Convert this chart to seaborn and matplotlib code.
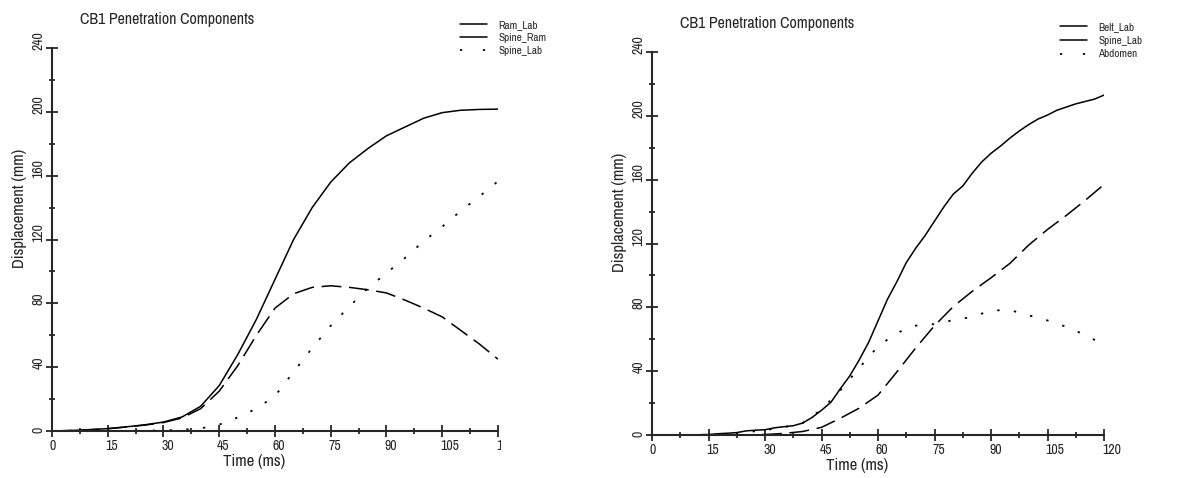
import numpy as np
import pandas as pd
import matplotlib
matplotlib.use("Agg")
import matplotlib.pyplot as plt
import seaborn as sns
from matplotlib.ticker import MultipleLocator
from matplotlib.transforms import Bbox, TransformedBbox, ScaledTranslation


# ---- left panel ----
time_ms = [0, 5, 10, 15, 20, 25, 30, 35, 40, 45, 50, 55, 60,
           65, 70, 75, 80, 85, 90, 95, 100, 105, 110, 115, 120]
ram_lab = [0, 0.3, 0.8, 1.5, 2.6, 3.9, 5.6, 8.8, 15.5, 28.5, 48, 70, 95,
           120, 140, 156, 168, 177, 185, 190.5, 196, 199.5, 201, 201.5, 201.7]
spine_ram = [0, 0.3, 0.8, 1.4, 2.5, 3.7, 5.3, 8.2, 14, 25, 41, 60, 77,
             86, 90, 91, 90, 88.5, 86.5, 82, 77, 71.5, 63, 54.5, 45]
spine_lab_l = [0, 0, 0, 0, 0.1, 0.2, 0.4, 0.8, 1.6, 4, 8.5, 14, 22,
               37, 52, 66, 78, 89.5, 99, 108.5, 119, 128, 138, 147, 156.5]

# ---- right panel ----
time_belt = [0, 5, 10, 15, 17.5, 20, 22.5, 25, 27.5, 30, 32.5, 35, 37.5, 40,
             42.5, 45, 47.5, 50, 52.5, 55, 57.5, 60, 62.5, 65, 67.5, 70, 72.5,
             75, 77.5, 80, 82.5, 85, 87.5, 90, 92.5, 95, 97.5, 100, 102.5, 105,
             107.5, 110, 112.5, 115, 117.5, 120]
belt_lab = [0, 0, 0, 0.3, 0.8, 1.1, 1.5, 2.6, 3.0, 3.3, 4.5, 5.2, 5.8, 7.5,
            11, 15.5, 20.5, 29, 37, 47, 58, 71.5, 85, 96, 108, 117, 125,
            134, 143, 151, 156, 164, 171, 176.5, 181, 186, 190.5, 194.5, 198, 200.5,
            203.5, 205.5, 207.5, 209, 210.5, 213]
spine_lab_r = [0, 0, 0, 0, 0, 0.1, 0.3, 1, 2.2, 4.8, 10.5, 16.8, 25,
               39.5, 54.5, 68.5, 80.5, 90, 98.5, 107.5, 119, 128.8, 137.6, 147, 157]
abdomen = [0, 0, 0, 0.2, 0.8, 1.8, 3, 4.8, 7.5, 16, 28, 42, 55.5,
           64, 68.5, 69.5, 72, 74, 78, 78.3, 75, 71.8, 67.8, 62.7, 56.5]

title = "CB1 Penetration Components"
dash = (0, (13, 5))
dot = (0, (1.3, 8))

sns.set_style("ticks")
plt.rcParams["font.family"] = ["Archivo Narrow", "DejaVu Sans"]

W, H = 1193, 478
fig = plt.figure(figsize=(W / 100, H / 100), dpi=100)
ax1 = fig.add_axes([52 / W, 47 / H, 446 / W, 383 / H])
ax2 = fig.add_axes([652 / W, 43 / H, 452 / W, 383 / H])

left = pd.DataFrame({"t": time_ms, "Ram_Lab": ram_lab,
                     "Spine_Ram": spine_ram, "Spine_Lab": spine_lab_l})
right = pd.DataFrame({"t": time_ms, "Spine_Lab": spine_lab_r, "Abdomen": abdomen})
belt = pd.DataFrame({"t": time_belt, "Belt_Lab": belt_lab})

kw = dict(color="black", estimator=None, sort=False)
sns.lineplot(data=left, x="t", y="Ram_Lab", ax=ax1, lw=1.1, linestyle="-", label="Ram_Lab", **kw)
sns.lineplot(data=left, x="t", y="Spine_Ram", ax=ax1, lw=1.1, linestyle=dash, label="Spine_Ram", **kw)
sns.lineplot(data=left, x="t", y="Spine_Lab", ax=ax1, lw=1.3, linestyle=dot, label="Spine_Lab", **kw)

sns.lineplot(data=belt, x="t", y="Belt_Lab", ax=ax2, lw=1.1, linestyle="-", label="Belt_Lab", **kw)
sns.lineplot(data=right, x="t", y="Spine_Lab", ax=ax2, lw=1.1, linestyle=dash, label="Spine_Lab", **kw)
sns.lineplot(data=right, x="t", y="Abdomen", ax=ax2, lw=1.3, linestyle=dot, label="Abdomen", **kw)

legend_opts = {ax1: ((0.915, 1.073), 0.27), ax2: ((0.903, 1.078), 0.33)}
for ax in (ax1, ax2):
    ax.set_xlim(0, 120)
    ax.set_ylim(0, 240)
    ax.set_xticks(np.arange(0, 121, 15))
    ax.set_yticks(np.arange(0, 241, 40))
    ax.xaxis.set_minor_locator(MultipleLocator(7.5))
    ax.yaxis.set_minor_locator(MultipleLocator(20))
    sns.despine(ax=ax)
    for s in ("left", "bottom"):
        ax.spines[s].set_linewidth(1.5)
    ax.tick_params(which="major", direction="inout", length=8, width=1.3, labelsize=10)
    ax.tick_params(axis="x", which="major", pad=2)
    ax.tick_params(axis="y", which="major", pad=0.5)
    ax.tick_params(which="minor", direction="inout", length=4, width=1.3)
    for lbl in ax.get_xticklabels():
        lbl.set_ha("left")
        lbl.set_transform(lbl.get_transform() + ScaledTranslation(-2 / 100, 0, fig.dpi_scale_trans))
    for lbl in ax.get_yticklabels():
        lbl.set_rotation(90)
        lbl.set_ha("right")
        lbl.set_va("bottom")
        lbl.set_transform(lbl.get_transform() + ScaledTranslation(0, -2 / 100, fig.dpi_scale_trans))

    ax.set_xlabel("Time (ms)", fontsize=12)
    ax.set_ylabel("Displacement (mm)", fontsize=12)
    ax.xaxis.set_label_coords(0.453, -0.060)
    ax.yaxis.set_label_coords(-0.056, 0.582)
    ax.set_title(title, loc="left", x=0.063, y=1.063, pad=0, fontsize=11.5)

    anchor, spacing = legend_opts[ax]
    leg = ax.legend(loc="upper left", bbox_to_anchor=anchor, frameon=False,
                    fontsize=8, handlelength=2.45, handletextpad=1.0,
                    labelspacing=spacing, borderpad=0, borderaxespad=0)
    hl = leg.get_lines()
    hl[1].set_linestyle("-")
    hl[2].set_linestyle((0, (1.2, 11.5)))

# the left chart is cut off right after the last tick, so only "1" of "120" shows
last = ax1.get_xticklabels()[-1]
last.set_clip_on(True)
last.set_clip_box(TransformedBbox(Bbox.from_extents(0, 0, 501 / W, 1), fig.transFigure))

fig.savefig("out.png", dpi=100)
